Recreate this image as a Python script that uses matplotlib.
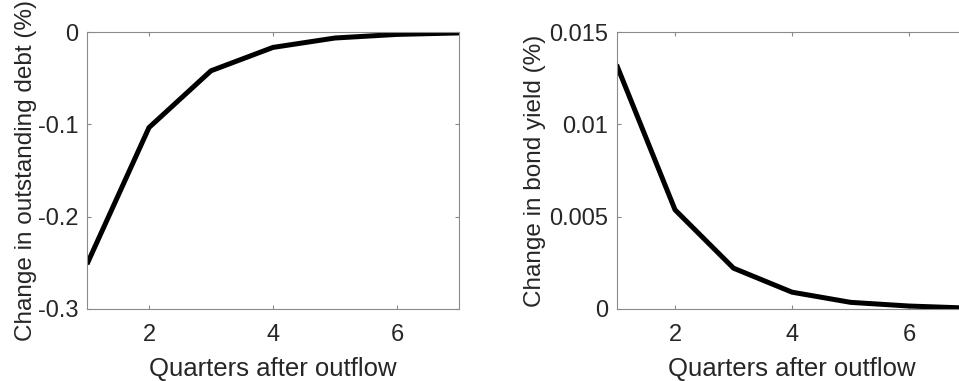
import matplotlib
matplotlib.use("Agg")
import matplotlib.pyplot as plt

quarters = [1, 2, 3, 4, 5, 6, 7]
debt_change = [-0.2515, -0.1035, -0.042, -0.0167, -0.0065, -0.0026, -0.001]
yield_change = [0.01323, 0.00537, 0.00221, 0.00091, 0.00036, 0.00016, 0.00005]

plt.rcParams['font.family'] = ['Liberation Sans', 'DejaVu Sans']
text_gray = '#262626'
frame_gray = '#8a8a8a'

fig = plt.figure(figsize=(9.59, 3.81), dpi=100)
ax1 = fig.add_axes([0.0907, 0.189, 0.3879, 0.727])
ax2 = fig.add_axes([0.6429, 0.189, 0.366, 0.727])

def style(ax):
    for s in ax.spines.values():
        s.set_color(frame_gray)
        s.set_linewidth(0.8)
    ax.tick_params(direction='in', top=True, right=True, length=3,
                   width=0.8, color=frame_gray, labelsize=17,
                   labelcolor=text_gray)
    ax.tick_params(axis='x', pad=11)
    ax.tick_params(axis='y', pad=6)
    ax.set_xlim(1, 7)
    ax.set_xticks([2, 4, 6])
    ax.set_xlabel('Quarters after outflow', fontsize=18.5, color=text_gray, labelpad=8)

ax1.plot(quarters, debt_change, color='black', linewidth=3.6, solid_capstyle='butt')
style(ax1)
ax1.set_ylim(-0.3, 0)
ax1.set_yticks([-0.3, -0.2, -0.1, 0])
ax1.set_yticklabels(['-0.3', '-0.2', '-0.1', '0'])
ax1.set_ylabel('Change in outstanding debt (%)', fontsize=17.5, color=text_gray, labelpad=1)

ax2.plot(quarters, yield_change, color='black', linewidth=3.6, solid_capstyle='butt')
style(ax2)
ax2.set_ylim(0, 0.015)
ax2.set_yticks([0, 0.005, 0.01, 0.015])
ax2.set_yticklabels(['0', '0.005', '0.01', '0.015'])
ax2.set_ylabel('Change in bond yield (%)', fontsize=17.5, color=text_gray, labelpad=2)

fig.savefig('out.png', dpi=100)
